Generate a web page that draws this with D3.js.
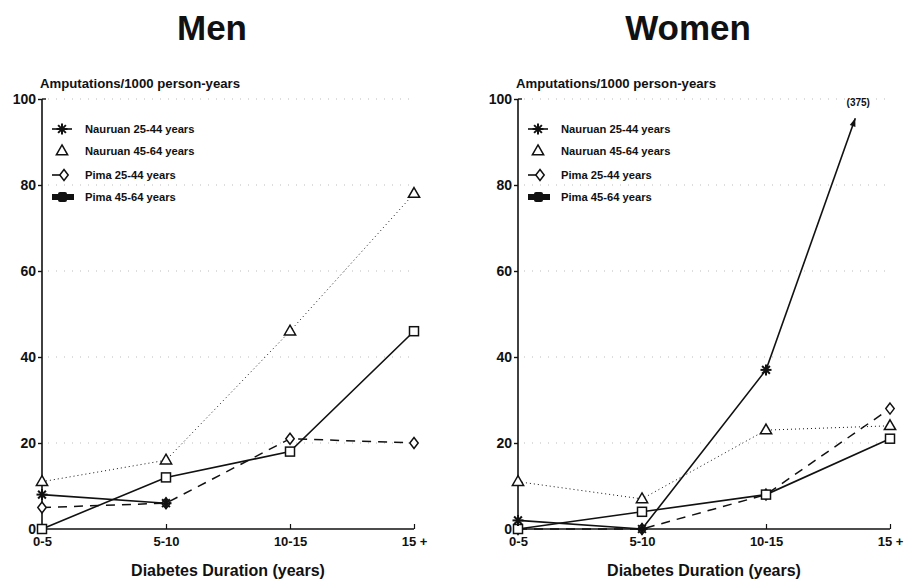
<!DOCTYPE html>
<html><head><meta charset="utf-8">
<script src="https://cdn.jsdelivr.net/npm/d3@7"></script>
<style>body{margin:0;background:#fff}svg{display:block}text{font-family:"Liberation Sans",Arial,sans-serif;font-weight:bold;fill:#111}</style>
</head><body><svg id="c" width="904" height="580"></svg>
<script>
const categories = ["0-5", "5-10", "10-15", "15 +"];
const yTicks = [0, 20, 40, 60, 80, 100];
const seriesNames = ["Nauruan 25-44 years", "Nauruan 45-64 years", "Pima 25-44 years", "Pima 45-64 years"];
const panelTitles = ["Men", "Women"];
// Men
const menNauruan2544 = [8, 6, null, null];
const menNauruan4564 = [11, 16, 46, 78];
const menPima2544 = [5, 6, 21, 20];
const menPima4564 = [0, 12, 18, 46];
// Women
const womenNauruan2544 = [2, 0, 37, 375];
const womenNauruan4564 = [11, 7, 23, 24];
const womenPima2544 = [0, 0, 8, 28];
const womenPima4564 = [0, 4, 8, 21];
// off-scale arrow for Women Nauruan 25-44 at 15+ (category position, displayed value)
const womenArrowTip = {pos: 2.72, value: 95.5, label: "(375)"};

const svg = d3.select("#c");
const y = d3.scaleLinear().domain([0, 100]).range([529, 99]);
const styles = [
  {dash: null, w: 1.6, sym: "star"},
  {dash: "1,3", w: 1, sym: "tri"},
  {dash: "9,7", w: 1.5, sym: "dia"},
  {dash: null, w: 1.6, sym: "sq"}
];
function symbol(g, type, cx, cy) {
  const s = g.append("g").attr("transform", `translate(${cx},${cy})`)
    .attr("fill", "#fff").attr("stroke", "#111").attr("stroke-width", 1.5);
  if (type === "star") {
    for (let k = 0; k < 4; k++) {
      const a = k * Math.PI / 4;
      s.append("line").attr("x1", -5.5*Math.cos(a)).attr("y1", -5.5*Math.sin(a))
        .attr("x2", 5.5*Math.cos(a)).attr("y2", 5.5*Math.sin(a)).attr("stroke-width", 2);
    }
  } else if (type === "tri") {
    s.append("path").attr("d", d3.symbol(d3.symbolTriangle, 55)()).attr("transform", "translate(0,0.5)");
  } else if (type === "dia") {
    s.append("path").attr("d", "M0,-5.5L4.2,0L0,5.5L-4.2,0Z");
  } else {
    s.append("rect").attr("x", -4.5).attr("y", -4.5).attr("width", 9).attr("height", 9);
  }
}

const panels = [
  {x0: 42, title: "Men", tx: 212, data: [menNauruan2544, menNauruan4564, menPima2544, menPima4564]},
  {x0: 518, title: "Women", tx: 688, data: [womenNauruan2544, womenNauruan4564, womenPima2544, womenPima4564]}
];

panels.forEach((p, pi) => {
  const x = d3.scaleLinear().domain([0, 3]).range([p.x0, p.x0 + 372]);
  const g = svg.append("g");
  g.append("text").attr("x", p.tx).attr("y", 40).attr("text-anchor", "middle")
    .style("font-size", "35px").text(panelTitles[pi]);
  // faint dotted grid
  g.selectAll(".grid").data(yTicks.slice(1)).join("line")
    .attr("x1", x(0) + 6).attr("x2", x(3)).attr("y1", d => y(d)).attr("y2", d => y(d))
    .attr("stroke", "#bbb").attr("stroke-width", 1).attr("stroke-dasharray", "1,7");
  // y axis
  const ya = g.append("g").attr("transform", `translate(${p.x0},0)`)
    .call(d3.axisLeft(y).tickValues(yTicks).tickSize(4).tickPadding(2));
  ya.select(".domain").attr("stroke", "#111").attr("stroke-width", 1.6).attr("d", `M0,${y(100)}V${y(0)}`);
  ya.selectAll(".tick line").attr("stroke", "#111").attr("stroke-width", 1.4);
  ya.selectAll(".tick text").style("font-size", "14px").style("font-family", "Liberation Sans,Arial,sans-serif").style("font-weight", "bold").attr("fill", "#111");
  g.append("line").attr("x1", p.x0).attr("x2", p.x0 + 4).attr("y1", y(100)).attr("y2", y(100)).attr("stroke", "#111").attr("stroke-width", 1.4);
  // x axis
  const xa = g.append("g").attr("transform", `translate(0,${y(0)})`)
    .call(d3.axisBottom(x).tickValues([0, 1, 2, 3]).tickFormat(i => categories[i]).tickSize(-5).tickPadding(8));
  xa.select(".domain").attr("stroke", "#111").attr("stroke-width", 1.6).attr("d", `M${x(0)},0H${x(3)}`);
  xa.selectAll(".tick line").attr("stroke", "#111").attr("stroke-width", 1.2);
  xa.selectAll(".tick text").style("font-size", "13px").style("font-family", "Liberation Sans,Arial,sans-serif").style("font-weight", "bold").attr("fill", "#111");
  g.append("text").attr("x", x(1.5)).attr("y", 576).attr("text-anchor", "middle")
    .style("font-size", "16px").text("Diabetes Duration (years)");
  g.append("text").attr("x", p.x0 - 2).attr("y", 88).style("font-size", "13.2px")
    .text("Amputations/1000 person-years");

  // series lines
  const line = d3.line().defined(d => d[1] != null).x(d => x(d[0])).y(d => y(d[1]));
  const order = [1, 2, 3, 0];
  order.forEach(si => {
    const vals = p.data[si];
    let pts = vals.map((v, i) => [i, v]);
    if (pi === 1 && si === 0) pts = pts.slice(0, 3);
    g.append("path").attr("d", line(pts)).attr("fill", "none").attr("stroke", "#111")
      .attr("stroke-width", styles[si].w).attr("stroke-dasharray", styles[si].dash);
  });
  if (pi === 1) {
    const x1 = x(2), y1 = y(womenNauruan2544[2]);
    const x2 = x(womenArrowTip.pos), y2 = y(womenArrowTip.value);
    g.append("line").attr("x1", x1).attr("y1", y1).attr("x2", x2).attr("y2", y2)
      .attr("stroke", "#111").attr("stroke-width", 1.6);
    const ang = Math.atan2(y2 - y1, x2 - x1);
    const L = 8, W = 3;
    const bx = x2 - L*Math.cos(ang), by = y2 - L*Math.sin(ang);
    g.append("path").attr("d", `M${x2},${y2}L${bx - W*Math.sin(ang)},${by + W*Math.cos(ang)}L${bx + W*Math.sin(ang)},${by - W*Math.cos(ang)}Z`).attr("fill", "#111");
    g.append("text").attr("x", x2 + 3).attr("y", y2 - 12).attr("text-anchor", "middle")
      .style("font-size", "10px").text(womenArrowTip.label);
  }
  order.forEach(si => {
    p.data[si].forEach((v, i) => {
      if (v == null || v > 100) return;
      symbol(g, styles[si].sym, x(i), y(v));
    });
  });

  // legend
  const lx = p.x0 + 20, rows = [129, 151, 175, 197];
  seriesNames.forEach((name, si) => {
    const cy = rows[si];
    if (si === 0) {
      g.append("line").attr("x1", lx - 10).attr("x2", lx + 10).attr("y1", cy).attr("y2", cy).attr("stroke", "#111").attr("stroke-width", 1.6);
      symbol(g, "star", lx, cy);
    } else if (si === 1) {
      symbol(g, "tri", lx, cy);
    } else if (si === 2) {
      g.append("line").attr("x1", lx - 10).attr("x2", lx).attr("y1", cy).attr("y2", cy).attr("stroke", "#111").attr("stroke-width", 1.6);
      symbol(g, "dia", lx + 2, cy);
    } else {
      g.append("line").attr("x1", lx - 10).attr("x2", lx + 12).attr("y1", cy).attr("y2", cy).attr("stroke", "#111").attr("stroke-width", 6);
      g.append("rect").attr("x", lx - 4).attr("y", cy - 5).attr("width", 9).attr("height", 10).attr("fill", "#111").attr("rx", 2);
    }
    g.append("text").attr("x", lx + 23).attr("y", cy + 4).style("font-size", "11.2px").text(name);
  });
});
</script></body></html>
